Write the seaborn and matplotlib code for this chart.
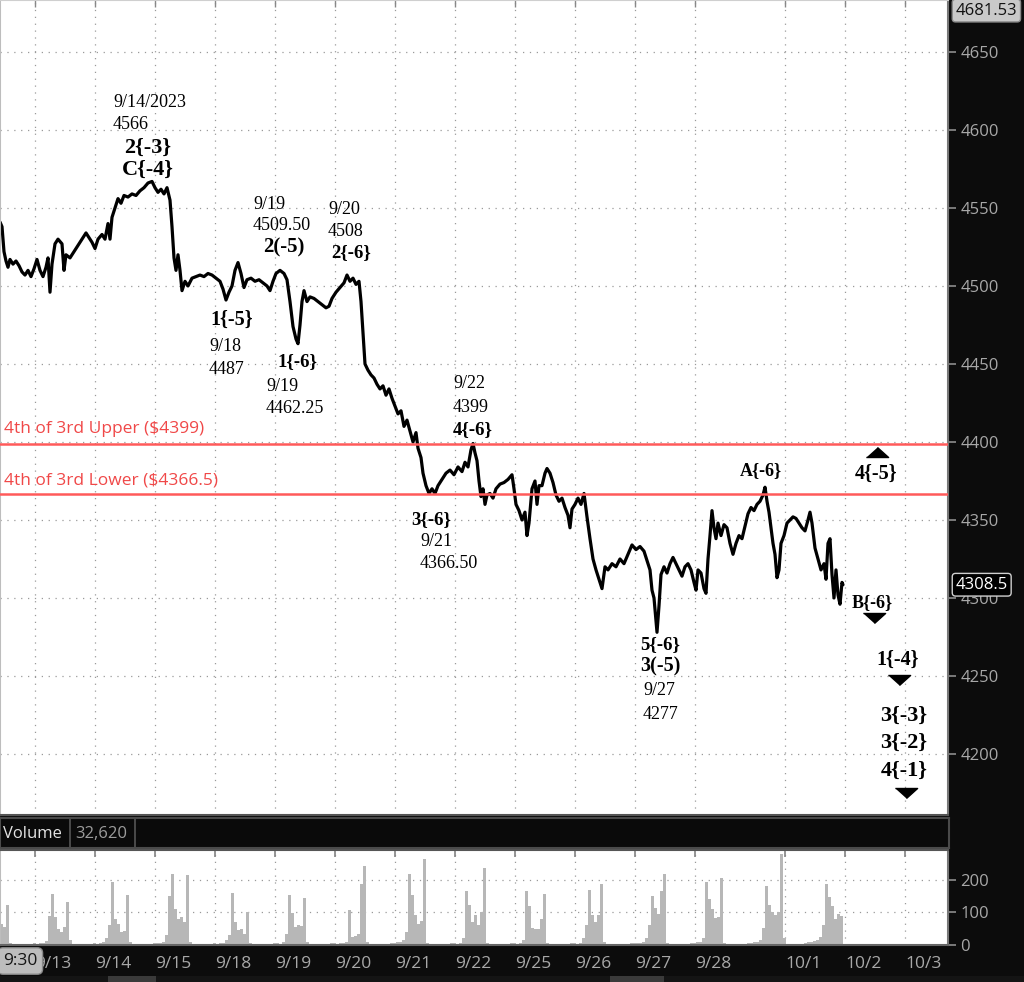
import numpy as np
import matplotlib
matplotlib.use("Agg")
import matplotlib.pyplot as plt
import matplotlib.transforms as mtransforms
from matplotlib.patches import Rectangle
import seaborn as sns

sns.set_theme(style="white")
plt.rcParams['font.family'] = ['Open Sans', 'DejaVu Sans']

# ---------------- data ----------------
# time axis in "bars": one trading session = 60 bars, 9/13 session start = 0
bars = [-35, -33, -31, -29, -27, -25, -22, -19, -16, -13, -10, -7, -4, -1, 2, 5, 8, 11, 13, 15,
        17, 20, 23, 27, 29, 31, 35, 39, 43, 47, 51, 54, 57, 60, 63, 67, 70, 73, 75, 77,
        80, 83, 86, 89, 93, 97, 101, 105, 109, 113, 117, 120, 123, 126, 129, 132, 135, 137, 139, 141,
        143, 145, 147, 150, 153, 157, 161, 165, 169, 173, 177, 181, 185, 188, 191, 194, 197, 200, 203, 206,
        209, 212, 216, 220, 224, 228, 232, 235, 238, 241, 245, 249, 252, 255, 258, 261, 263, 265, 267, 269,
        272, 275, 279, 283, 287, 291, 294, 297, 301, 305, 309, 312, 315, 318, 321, 324, 326, 328, 330, 333,
        336, 339, 342, 345, 348, 351, 354, 357, 360, 363, 366, 369, 372, 375, 378, 381, 383, 386, 388, 391,
        394, 397, 400, 403, 407, 411, 415, 419, 423, 427, 430, 433, 436, 438, 440, 442, 444, 446, 448, 450,
        452, 455, 458, 461, 465, 469, 473, 477, 479, 481, 484, 487, 490, 492, 494, 497, 500, 502, 504, 507,
        510, 512, 515, 518, 521, 524, 527, 530, 533, 535, 537, 540, 543, 546, 549, 552, 555, 558, 561, 564,
        567, 570, 573, 577, 581, 585, 589, 593, 597, 601, 605, 609, 612, 615, 617, 619, 621, 622, 624, 626,
        629, 632, 635, 638, 641, 644, 647, 650, 653, 656, 659, 661, 663, 666, 669, 671, 673, 675, 677, 679,
        681, 683, 686, 689, 692, 695, 698, 701, 704, 707, 710, 713, 716, 719, 722, 725, 728, 730, 732, 734,
        736, 738, 740, 742, 744, 746, 749, 752, 755, 758, 761, 764, 767, 770, 773, 775, 777, 780, 783, 786,
        789, 791, 793, 795, 797, 799, 801, 803, 805, 807, 808]
prices = [4541, 4538, 4522, 4516, 4512, 4517, 4514, 4516, 4513, 4509, 4507, 4510, 4506, 4511, 4517, 4510, 4506, 4512, 4518, 4496,
          4514, 4527, 4530, 4527, 4510, 4520, 4518, 4522, 4526, 4530, 4534, 4531, 4528, 4524, 4530, 4533, 4530, 4540, 4530, 4544,
          4550, 4556, 4553, 4558, 4557, 4559, 4558, 4561, 4563, 4566, 4567, 4563, 4560, 4562, 4559, 4563, 4555, 4538, 4518, 4510,
          4520, 4510, 4497, 4503, 4500, 4505, 4506, 4507, 4506, 4508, 4507, 4505, 4503, 4498, 4491, 4496, 4500, 4510, 4515, 4508,
          4499, 4504, 4505, 4503, 4504, 4502, 4500, 4497, 4503, 4508, 4510, 4508, 4504, 4490, 4474, 4466, 4463, 4475, 4490, 4497,
          4490, 4493, 4492, 4490, 4488, 4486, 4487, 4492, 4496, 4499, 4502, 4507, 4503, 4505, 4501, 4503, 4490, 4470, 4450, 4446,
          4443, 4441, 4437, 4434, 4436, 4430, 4434, 4428, 4423, 4418, 4420, 4410, 4414, 4407, 4400, 4406, 4396, 4390, 4380, 4372,
          4367, 4370, 4367, 4372, 4376, 4380, 4382, 4379, 4384, 4381, 4387, 4384, 4395, 4399, 4393, 4388, 4375, 4365, 4370, 4360,
          4366, 4367, 4364, 4370, 4373, 4374, 4376, 4379, 4370, 4360, 4356, 4350, 4355, 4340, 4348, 4370, 4375, 4360, 4372, 4372,
          4380, 4383, 4380, 4374, 4366, 4362, 4364, 4358, 4353, 4345, 4357, 4360, 4364, 4360, 4367, 4352, 4338, 4325, 4318, 4312,
          4306, 4320, 4318, 4322, 4320, 4325, 4322, 4328, 4334, 4331, 4333, 4330, 4324, 4318, 4305, 4300, 4285, 4278, 4295, 4315,
          4320, 4316, 4322, 4326, 4322, 4318, 4314, 4320, 4322, 4318, 4310, 4305, 4318, 4316, 4306, 4303, 4325, 4340, 4356, 4345,
          4338, 4348, 4340, 4347, 4345, 4335, 4328, 4335, 4340, 4338, 4346, 4354, 4358, 4356, 4360, 4362, 4366, 4371, 4362, 4355,
          4345, 4335, 4328, 4313, 4318, 4335, 4340, 4348, 4350, 4352, 4351, 4348, 4345, 4343, 4350, 4355, 4348, 4332, 4325, 4318,
          4322, 4312, 4335, 4338, 4315, 4300, 4318, 4302, 4296, 4310, 4308.5]

# volume in 3-bar bins starting at bar -35
volume = [66, 55, 122, 5, 3, 2, 2, 2, 3, 3, 4, 6,
          4, 5, 6, 12, 90, 158, 85, 50, 40, 55, 131, 15, 3, 2, 2, 2, 3, 3, 4, 6,
          4, 5, 8, 20, 60, 194, 80, 65, 40, 42, 153, 10, 3, 2, 2, 2, 3, 3, 4, 6,
          5, 6, 10, 30, 150, 217, 110, 80, 85, 70, 214, 8, 3, 2, 2, 3, 3, 3, 4, 6,
          4, 5, 6, 15, 30, 161, 70, 45, 50, 35, 102, 6, 3, 2, 2, 2, 3, 3, 4, 5,
          5, 4, 8, 35, 153, 97, 55, 60, 58, 143, 10, 3, 2, 2, 2, 3, 3, 4, 5, 6,
          4, 5, 6, 8, 107, 25, 28, 35, 189, 242, 10, 3, 2, 2, 2, 3, 3, 4, 5, 6,
          8, 10, 15, 40, 217, 153, 92, 65, 75, 263, 5, 3, 2, 2, 2, 3, 3, 4, 5, 6,
          4, 6, 20, 166, 122, 71, 92, 60, 100, 238, 5, 3, 2, 2, 2, 3, 3, 4, 5, 5,
          4, 5, 15, 166, 120, 51, 50, 50, 80, 158, 5, 3, 2, 2, 2, 3, 3, 4, 5, 5,
          4, 6, 20, 60, 170, 92, 71, 92, 186, 8, 3, 2, 2, 2, 2, 3, 3, 4, 5, 5,
          5, 6, 10, 20, 60, 150, 115, 95, 166, 217, 5, 3, 2, 2, 2, 3, 3, 4, 5, 6,
          8, 10, 20, 194, 140, 112, 82, 85, 206, 5, 3, 2, 2, 2, 3, 3, 4, 5, 6, 8,
          10, 15, 51, 182, 122, 102, 92, 100, 280, 20,
          3, 3, 2, 3, 3, 4, 6, 8, 10, 12, 15, 25, 60, 188, 147, 120, 79, 95, 89]

day_ticks = [0, 60, 120, 180, 240, 300, 360, 420, 480, 540, 600, 660, 750, 810, 870]
day_labels = ['9/13', '9/14', '9/15', '9/18', '9/19', '9/20', '9/21', '9/22', '9/25',
              '9/26', '9/27', '9/28', '10/1', '10/2', '10/3']
price_ticks = [4200, 4250, 4300, 4350, 4400, 4450, 4500, 4550, 4600, 4650]
vol_ticks = [0, 100, 200]
upper_level = 4399
lower_level = 4366.5
last_price = 4308.5
high_price = 4681.53
last_volume = "32,620"

# ---------------- figure ----------------
W, H = 1024, 982
fig = plt.figure(figsize=(W / 100, H / 100), dpi=100, facecolor='#0c0c0c')

def frac(x0, y0, x1, y1):
    return [x0 / W, 1 - y1 / H, (x1 - x0) / W, (y1 - y0) / H]

XLIM = (-35, 913)
GRID = dict(color='#9a9a9a', lw=0.9, ls=(0, (1, 4.5)))
TXTC = '#a8a8a8'

ax = fig.add_axes(frac(0, 0, 948, 815))
ax.set_facecolor('white')
sns.lineplot(x=bars, y=prices, ax=ax, color='black', lw=2.3, sort=False, estimator=None)
ax.set_xlim(*XLIM)
ax.set_ylim(4160.9, 4683.3)
for t in day_ticks:
    ax.axvline(t, zorder=0, **GRID)
for p in price_ticks:
    ax.axhline(p, zorder=0, **GRID)
ax.set_xticks(day_ticks)
ax.set_xticklabels([])
ax.tick_params(axis='x', bottom=False, top=True, direction='in', length=5, color='#888888', width=1)
ax.yaxis.tick_right()
ax.set_yticks(price_ticks)
ax.set_yticklabels([str(p) for p in price_ticks])
ax.tick_params(axis='y', right=True, left=False, direction='out', length=6, color='#888888',
               labelcolor=TXTC, labelsize=12, pad=3)
ax.set_xlabel('')
ax.set_ylabel('')
for s, c in [('top', '#cfcfcf'), ('left', '#bdbdbd'), ('right', '#777777'), ('bottom', '#555555')]:
    ax.spines[s].set_color(c)
    ax.spines[s].set_linewidth(1.5)

# support lines
red = '#ff5a5a'
ax.axhline(upper_level, color=red, lw=1.8, zorder=3)
ax.axhline(lower_level, color=red, lw=1.8, zorder=3)
ax.text(-31, upper_level + 4, f'4th of 3rd Upper (${upper_level:g})', color='#f04848',
        fontsize=12.5, va='bottom', ha='left')
ax.text(-31, lower_level + 4, f'4th of 3rd Lower (${lower_level:g})', color='#f04848',
        fontsize=12.5, va='bottom', ha='left')

# annotations
serif = ['Liberation Serif', 'DejaVu Serif']
notes = [
    ('9/14/2023', 78, 4617.3, False, 13, 'left'),
    ('4566', 78, 4603.2, False, 13, 'left'),
    ('2{-3}', 113, 4588.5, True, 16, 'center'),
    ('C{-4}', 113, 4574.4, True, 16, 'center'),
    ('9/19', 218, 4551.9, False, 13, 'left'),
    ('4509.50', 218, 4538.5, False, 13, 'left'),
    ('2(-5)', 249, 4524.4, True, 15, 'center'),
    ('9/20', 293, 4548.7, False, 13, 'left'),
    ('4508', 293, 4534.6, False, 13, 'left'),
    ('2{-6}', 316, 4521.2, True, 13.5, 'center'),
    ('1{-5}', 197, 4478.2, True, 14.5, 'center'),
    ('9/18', 174, 4460.9, False, 13, 'left'),
    ('4487', 174, 4446.2, False, 13, 'left'),
    ('1{-6}', 263, 4451.3, True, 13.5, 'center'),
    ('9/19', 231, 4435.3, False, 13, 'left'),
    ('4462.25', 231, 4421.2, False, 13, 'left'),
    ('9/22', 418, 4437.2, False, 13, 'left'),
    ('4399', 418, 4422.4, False, 13, 'left'),
    ('4{-6}', 438, 4407.7, True, 13.5, 'center'),
    ('3{-6}', 396, 4350.6, True, 13.5, 'center'),
    ('9/21', 385, 4336.5, False, 13, 'left'),
    ('4366.50', 385, 4322.4, False, 13, 'left'),
    ('5{-6}', 625, 4269.9, True, 13.5, 'center'),
    ('3(-5)', 625, 4255.8, True, 14.5, 'center'),
    ('9/27', 608, 4241.0, False, 13, 'left'),
    ('4277', 608, 4225.0, False, 13, 'left'),
    ('A{-6}', 726, 4382.0, True, 13, 'center'),
    ('4{-5}', 841, 4379.5, True, 14.5, 'center'),
    ('B{-6}', 837, 4296.8, True, 13, 'center'),
    ('1{-4}', 863, 4260.3, True, 14.5, 'center'),
    ('3{-3}', 869, 4224.4, True, 16, 'center'),
    ('3{-2}', 869, 4207.0, True, 16, 'center'),
    ('4{-1}', 869, 4189.0, True, 16, 'center'),
]
for txt, x, y, bold, size, ha in notes:
    ax.text(x, y, txt, family=serif, fontsize=size, fontweight='bold' if bold else 'normal',
            ha=ha, va='center', color='black', zorder=5)

tri_up = [(-1, -0.45), (1, -0.45), (0, 0.45)]
tri_dn = [(-1, 0.45), (1, 0.45), (0, -0.45)]
ax.plot([842], [4393.6], marker=tri_up, ms=16, color='black', ls='none', zorder=5)
ax.plot([839, 864, 871], [4287.2, 4247.4, 4175.0], marker=tri_dn, ms=16, color='black',
        ls='none', zorder=5)

# price boxes on the right scale
trans = mtransforms.blended_transform_factory(ax.transAxes, ax.transData)
ax.text(1.008, last_price, f'{last_price:g}', transform=trans, color='white', fontsize=12,
        va='center', ha='left', clip_on=False,
        bbox=dict(boxstyle='round,pad=0.2', fc='black', ec='#d0d0d0', lw=1))
ax.text(1.008, 4676.5, f'{high_price:.2f}', transform=trans, color='#111111', fontsize=12,
        va='center', ha='left', clip_on=False,
        bbox=dict(boxstyle='round,pad=0.2', fc='#c9c9c9', ec='#8a8a8a', lw=1))

# volume header bar
axh = fig.add_axes(frac(0, 818, 949, 848))
axh.set_facecolor('#0a0a0a')
axh.set_xticks([])
axh.set_yticks([])
for s in axh.spines.values():
    s.set_color('#4a4a4a')
    s.set_linewidth(1.5)
axh.set_xlim(0, 949)
axh.set_ylim(0, 1)
axh.text(3, 0.47, 'Volume', color='#e4e4e4', fontsize=12, va='center', ha='left')
axh.axvline(70, color='#555555', lw=1.2)
axh.axvline(135, color='#555555', lw=1.2)
axh.text(75, 0.47, last_volume, color='#9c9c9c', fontsize=12, va='center', ha='left')

# volume panel
axv = fig.add_axes(frac(0, 850, 948, 945))
axv.set_facecolor('white')
vol_x = np.arange(len(volume)) * 3 - 33.5
axv.bar(vol_x, volume, width=3, color='#b7b7b7', linewidth=0, zorder=2)
axv.set_xlim(*XLIM)
axv.set_ylim(0, 292)
for t in day_ticks:
    axv.axvline(t, zorder=0, **GRID)
for v in vol_ticks[1:]:
    axv.axhline(v, zorder=0, **GRID)
axv.yaxis.tick_right()
axv.set_yticks(vol_ticks)
axv.set_yticklabels([str(v) for v in vol_ticks])
axv.tick_params(axis='y', right=True, left=False, direction='out', length=6, color='#888888',
                labelcolor=TXTC, labelsize=12, pad=3)
axv.set_xticks(day_ticks)
axv.set_xticklabels(day_labels)
axv.tick_params(axis='x', bottom=False, top=True, direction='in', length=5, color='#888888',
                labelcolor=TXTC, labelsize=12.5, pad=8)
for lab in axv.get_xticklabels():
    lab.set_horizontalalignment('left')
for s, c in [('top', '#555555'), ('left', '#bdbdbd'), ('right', '#777777'), ('bottom', '#666666')]:
    axv.spines[s].set_color(c)
    axv.spines[s].set_linewidth(1.5)

# time box and bottom toolbar strip
fig.text(3 / W, 1 - 961 / H, '9:30', color='#151515', fontsize=12.5, va='center', ha='left',
         zorder=10, bbox=dict(boxstyle='round,pad=0.3', fc='#bdbdbd', ec='#8a8a8a', lw=1))
fig.patches.append(Rectangle((0, 0), 1, 6 / H, transform=fig.transFigure,
                             fc='#141414', ec='none', zorder=0))
fig.patches.append(Rectangle((108 / W, 0), 48 / W, 6 / H, transform=fig.transFigure,
                             fc='#3a3a3a', ec='none', zorder=1))
fig.patches.append(Rectangle((610 / W, 0), 54 / W, 6 / H, transform=fig.transFigure,
                             fc='#3a3a3a', ec='none', zorder=1))

fig.savefig('out.png', dpi=100, facecolor=fig.get_facecolor())
